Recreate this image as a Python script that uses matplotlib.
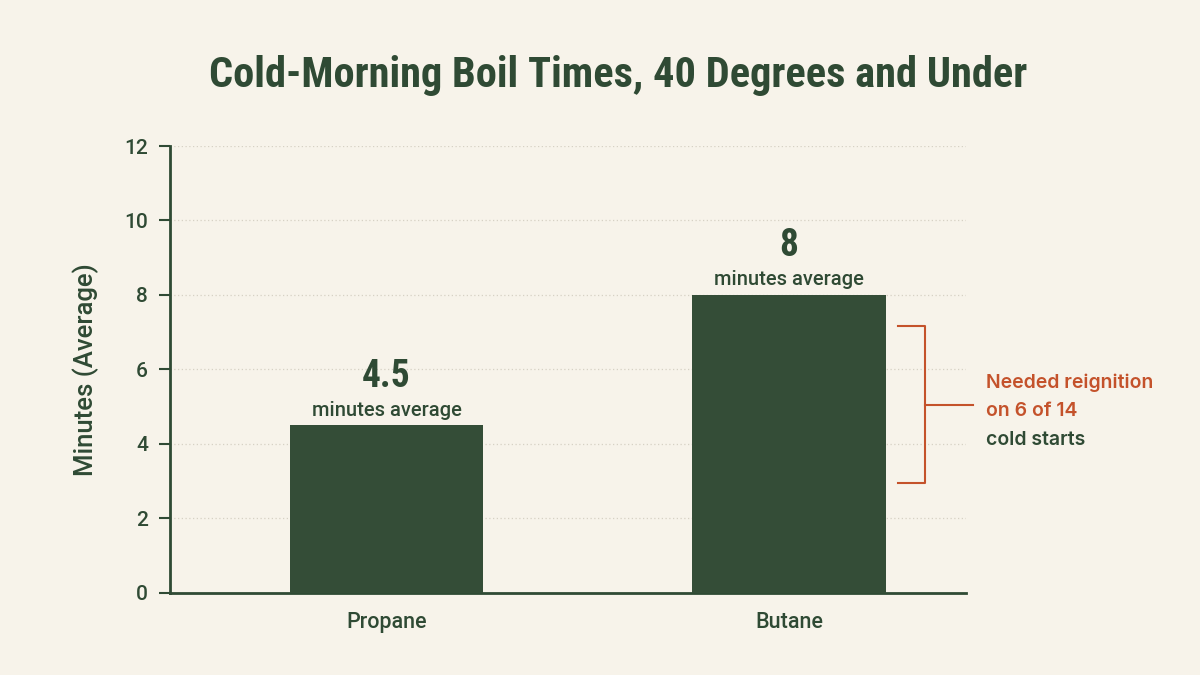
import matplotlib
matplotlib.use('Agg')
import matplotlib.pyplot as plt
from matplotlib import font_manager

categories = ['Propane', 'Butane']
minutes = [4.5, 8]
value_labels = ['4.5', '8']
y_ticks = [0, 2, 4, 6, 8, 10, 12]
note_lines = ['Needed reignition', 'on 6 of 14', 'cold starts']
bracket_range = [2.95, 7.17]

installed = set(f.name for f in font_manager.fontManager.ttflist)


def pick(*names):
    for n in names:
        if n in installed:
            return n
    return 'DejaVu Sans'


narrow = pick('Roboto Condensed', 'Liberation Sans Narrow', 'DejaVu Sans')
body = pick('Roboto', 'Open Sans', 'DejaVu Sans')
note_font = pick('Inter', 'Open Sans', 'DejaVu Sans')

bg = '#f7f3ea'
green = '#2f4a34'
bar_color = '#344d37'
orange = '#c4522b'

fig = plt.figure(figsize=(12, 6.75), dpi=100, facecolor=bg)
ax = fig.add_axes([0.1417, 0.1215, 0.6633, 0.6622])
ax.set_facecolor(bg)

x = list(range(len(categories)))
ax.bar(x, minutes, width=0.48, color=bar_color, zorder=3)

ax.set_xlim(-0.538, 1.44)
ax.set_ylim(0, 12)
ax.set_yticks(y_ticks)
ax.set_yticklabels([str(t) for t in y_ticks], fontfamily=body, fontsize=15,
                   fontweight='medium', color=green)
ax.set_xticks(x)
ax.set_xticklabels(categories, fontfamily=body, fontsize=15.5, fontweight='medium', color=green)
ax.tick_params(axis='y', length=8, width=1.5, color=green, pad=8)
ax.tick_params(axis='x', length=0, pad=14)
ax.grid(axis='y', linestyle=(0, (1, 2)), color='#d6d1c4', linewidth=0.9, zorder=0)

for s in ['top', 'right']:
    ax.spines[s].set_visible(False)
for s in ['left', 'bottom']:
    ax.spines[s].set_color(green)
    ax.spines[s].set_linewidth(2)

ax.set_ylabel('Minutes (Average)', fontfamily=body, fontsize=18.5, fontweight='medium',
              color=green, labelpad=18)

for xi, v, lab in zip(x, minutes, value_labels):
    ax.annotate('minutes average', (xi, v), xytext=(0, 4), textcoords='offset points',
                ha='center', va='bottom', fontfamily=body, fontsize=14.5,
                fontweight='medium', color=green)
    ax.annotate(lab, (xi, v), xytext=(0, 22), textcoords='offset points',
                ha='center', va='bottom', fontfamily=narrow, fontsize=27,
                fontweight='bold', color=green)

# bracket for the butane note
bx0, bx1, bx2 = 1.271, 1.338, 1.457
lo, hi = bracket_range
mid = (lo + hi) / 2
ax.plot([bx0, bx1, bx1, bx0], [hi, hi, lo, lo], color=orange, lw=1.5, clip_on=False, zorder=4)
ax.plot([bx1, bx2], [mid, mid], color=orange, lw=1.5, clip_on=False, zorder=4)
for i, (line, col) in enumerate(zip(note_lines, [orange, orange, green])):
    ax.text(1.49, mid + 0.58 - i * 0.76, line, ha='left', va='center', fontfamily=note_font,
            fontsize=14, fontweight='semibold', color=col)

fig.text(0.515, 0.888, 'Cold-Morning Boil Times, 40 Degrees and Under', ha='center',
         va='center', fontfamily=narrow, fontsize=30.5, fontweight='bold', color=green)

fig.savefig('out.png', dpi=100, facecolor=bg)
